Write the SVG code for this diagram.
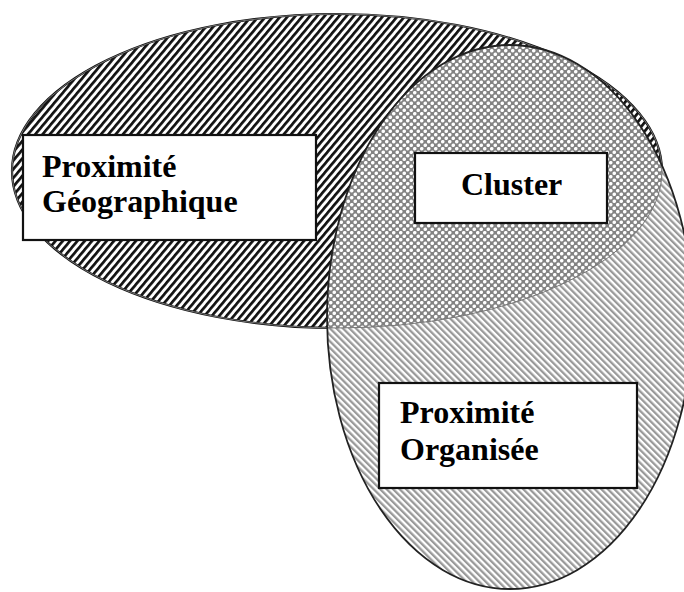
<svg xmlns="http://www.w3.org/2000/svg" width="684" height="592" viewBox="0 0 684 592">
<style>
.box{fill:#fff;stroke:#111;stroke-width:2.2}
.lbl{font-weight:bold;font-size:32px;fill:#000}
</style>
<defs>
<pattern id="hatchBlack" width="5.6" height="10" patternUnits="userSpaceOnUse" patternTransform="rotate(40)">
<rect width="5.6" height="10" fill="#fff"/>
<rect width="2.7" height="10" fill="#111"/>
</pattern>
<pattern id="hatchGray" width="4.6" height="10" patternUnits="userSpaceOnUse" patternTransform="rotate(-45)">
<rect width="4.6" height="10" fill="#fff"/>
<rect width="2.3" height="10" fill="#999"/>
</pattern>
<pattern id="cross" width="7" height="7" patternUnits="userSpaceOnUse">
<rect width="7" height="7" fill="#838383"/>
<circle cx="1.75" cy="1.75" r="1.8" fill="#fff"/>
<circle cx="5.25" cy="5.25" r="1.8" fill="#fff"/>
</pattern>
<clipPath id="clipTop"><ellipse cx="337" cy="171" rx="325" ry="157"/></clipPath>
<mask id="outsideBottom">
<rect width="684" height="592" fill="#fff"/>
<ellipse cx="510" cy="317" rx="183" ry="272" fill="#000"/>
</mask>
</defs>
<rect width="684" height="592" fill="#fff"/>
<g id="ellipses">
<g id="geo-area">
<ellipse cx="337" cy="171" rx="325" ry="157" fill="url(#hatchBlack)"/>
</g>
<g id="org-area">
<ellipse cx="510" cy="317" rx="183" ry="272" fill="url(#hatchGray)"/>
</g>
<g id="overlap">
<ellipse cx="510" cy="317" rx="183" ry="272" fill="url(#cross)" clip-path="url(#clipTop)"/>
</g>
<g id="outlines">
<ellipse cx="337" cy="171" rx="325" ry="157" fill="none" stroke="#111" stroke-width="2.2" mask="url(#outsideBottom)"/>
<ellipse cx="337" cy="171" rx="325" ry="157" fill="none" stroke="#777" stroke-width="1"/>
<ellipse cx="510" cy="317" rx="183" ry="272" fill="none" stroke="#222" stroke-width="1.8"/>
</g>
</g>
<g id="connectors"></g>
<g id="node-geo" font-family="'Liberation Serif', 'DejaVu Serif', serif">
<rect class="box" x="23" y="135" width="293" height="105"/>
<text class="lbl" x="42" y="177">Proximité</text>
<text class="lbl" x="42" y="212">Géographique</text>
</g>
<g id="node-cluster" font-family="'Liberation Serif', 'DejaVu Serif', serif">
<rect class="box" x="415" y="153" width="192" height="70"/>
<text class="lbl" x="461" y="195">Cluster</text>
</g>
<g id="node-org" font-family="'Liberation Serif', 'DejaVu Serif', serif">
<rect class="box" x="379" y="383" width="258" height="105"/>
<text class="lbl" x="400" y="423">Proximité</text>
<text class="lbl" x="400" y="460">Organisée</text>
</g>
</svg>
